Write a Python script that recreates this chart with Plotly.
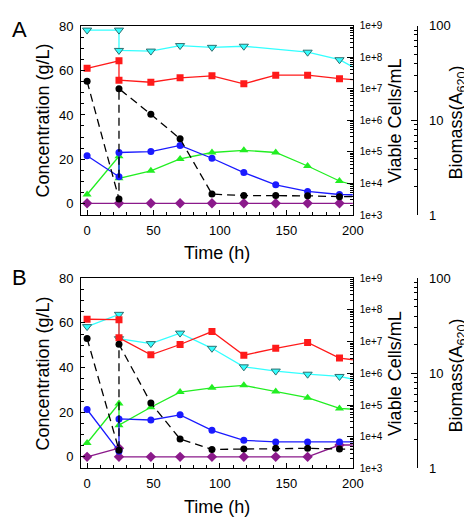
import plotly.graph_objects as go

# ---------------- data ----------------
time_full = [0, 24, 24, 48, 70, 94, 118, 142, 166, 190, 214]
time_no142 = [0, 24, 24, 48, 70, 94, 118, 166, 190, 214]
time_single = [0, 24, 48, 70, 94, 118, 142, 166, 190, 214]

A_cyan = [78.4, 78.4, 69.2, 68.9, 71.4, 70.6, 71.1, 68.4, 65.0, 57.3]
A_red = [61.1, 64.5, 55.7, 54.8, 56.8, 57.7, 54.1, 58.0, 58.0, 56.4, 55.4]
A_black = [55.2, 2.0, 51.9, 40.3, 29.2, 4.2, 3.5, 3.5, 3.4, 3.0, 3.2]
A_blue = [21.5, 12.0, 23.0, 23.4, 26.2, 20.4, 13.9, 8.4, 5.4, 4.0, 3.7]
A_green = [4.0, 21.3, 11.3, 14.7, 20.1, 23.0, 24.0, 23.0, 16.9, 10.1, 6.0]
A_purple = [0, 0, 0, 0, 0, 0, 0, 0, 0, 0]

B_cyan = [58.3, 63.8, 52.9, 50.7, 55.4, 48.6, 40.3, 38.4, 37.0, 36.0, 33.0]
B_red = [61.6, 61.4, 53.3, 45.7, 50.3, 56.1, 45.5, 48.6, 51.2, 44.2, 42.5]
B_black = [53.0, 3.0, 50.4, 24.1, 8.0, 3.3, 3.5, 3.8, 3.8, 3.5, 3.5]
B_blue = [21.2, 2.5, 17.0, 16.5, 18.8, 11.9, 7.4, 6.7, 6.7, 6.7, 6.7]
B_green = [6.2, 23.9, 14.2, 22.2, 29.0, 30.9, 32.0, 29.3, 26.5, 21.7, 20.8]
B_purple = [0, 3.9, 0, 0, 0, 0, 0, 0, 0, 5.3, 5.3]

conc_ticks = [0, 20, 40, 60, 80]
time_ticks = [0, 50, 100, 150, 200]
cell_ticks = [1e3, 1e4, 1e5, 1e6, 1e7, 1e8, 1e9]
cell_labels = ["1e+3", "1e+4", "1e+5", "1e+6", "1e+7", "1e+8", "1e+9"]
bio_ticks = [1, 10, 100]
bio_labels = ["1", "10", "100"]

# ---------------- figure ----------------
W, H = 472, 518
FONT = "Liberation Sans, Arial, sans-serif"

fig = go.Figure()

def px_x(p):
    return p / W

def px_y(p):
    return 1 - p / H

xdom = [px_x(75), px_x(353)]
A_top, A_bot = 11, 206
B_top, B_bot = 271, 467
domA = [px_y(A_bot), px_y(A_top)]
domB = [px_y(B_bot), px_y(B_top)]

def add_series(xa, ya, x, y, color, symbol, dash="solid", mline=None, size=7):
    fig.add_trace(go.Scatter(
        x=x, y=y, xaxis=xa, yaxis=ya, mode="lines+markers",
        line=dict(color=color, width=1.3, dash=dash),
        marker=dict(symbol=symbol, size=size, color=color,
                    line=dict(color=mline or color, width=1 if mline else 0)),
        showlegend=False, hoverinfo="skip", cliponaxis=True))

for xa, ya, cyan_t, cy, rd, bk, bl, gr, pu_t, pu in [
    ("x", "y", time_no142, A_cyan, A_red, A_black, A_blue, A_green, time_single, A_purple),
    ("x2", "y2", time_full, B_cyan, B_red, B_black, B_blue, B_green, time_full, B_purple),
]:
    add_series(xa, ya, pu_t, pu, "#8B1A8B", "diamond", size=8)
    add_series(xa, ya, cyan_t, cy, "#33FFFF", "triangle-down", mline="#2F6F6F", size=8)
    add_series(xa, ya, time_full, rd, "#FF1A1A", "square", size=7)
    add_series(xa, ya, time_full, gr, "#22EE22", "triangle-up", size=8)
    add_series(xa, ya, time_full, bl, "#1A1AFF", "circle", size=7)
    add_series(xa, ya, time_full, bk, "#000000", "circle", dash="8px,5px", size=7)

# invisible placeholders so the secondary axes are drawn
for ya in ["y3", "y4", "y5", "y6"]:
    xa = "x" if ya in ("y3", "y4") else "x2"
    fig.add_trace(go.Scatter(x=[None], y=[None], xaxis=xa, yaxis=ya,
                             showlegend=False, hoverinfo="skip"))

tickfont = dict(family=FONT, size=13, color="black")
titlefont = dict(family=FONT, size=18, color="black")

def xaxis_cfg(anchor):
    return dict(domain=xdom, anchor=anchor, range=[-4.4, 200],
                tickvals=time_ticks, ticks="inside", ticklen=5, tickwidth=1,
                minor=dict(dtick=10, tick0=0, ticks="inside", ticklen=3, tickwidth=1, tickcolor="black"),
                tickcolor="black", showline=True, linecolor="black", linewidth=1.2,
                mirror=True, showgrid=False, zeroline=False, tickfont=tickfont,
                ticklabelstandoff=3)

def yaxis_cfg(anchor, dom, rng):
    return dict(domain=dom, anchor=anchor, range=rng,
                tickvals=conc_ticks, ticks="inside", ticklen=4, tickwidth=1,
                minor=dict(dtick=5, tick0=0, ticks="inside", ticklen=3, tickwidth=1, tickcolor="black"),
                tickcolor="black", showline=True, linecolor="black", linewidth=1.2,
                mirror=True, showgrid=False, zeroline=False, tickfont=tickfont,
                ticklabelstandoff=4)

cell_minor = [m * 10 ** e for e in range(3, 9) for m in range(2, 10)]
bio_minor = [m * 10 ** e for e in range(0, 2) for m in range(2, 10)]

def cells_cfg(over, anchor):
    return dict(overlaying=over, anchor=anchor, side="right", type="log",
                range=[3, 9], tickvals=cell_ticks, ticktext=cell_labels,
                ticks="inside", ticklen=6, tickwidth=1, tickcolor="black",
                minor=dict(tickvals=cell_minor, ticks="inside", ticklen=3, tickwidth=1, tickcolor="black"),
                showline=False, showgrid=False, zeroline=False,
                tickfont=dict(family=FONT, size=10, color="black"),
                ticklabelstandoff=6)

def bio_cfg(over):
    return dict(overlaying=over, anchor="free", position=px_x(419), side="right", type="log",
                range=[0, 2], tickvals=bio_ticks, ticktext=bio_labels,
                ticks="inside", ticklen=6, tickwidth=1, tickcolor="black",
                minor=dict(tickvals=bio_minor, ticks="inside", ticklen=3, tickwidth=1, tickcolor="black"),
                showline=True, linecolor="black", linewidth=1.2,
                showgrid=False, zeroline=False,
                tickfont=dict(family=FONT, size=13, color="black"),
                ticklabelstandoff=8)

def title_ann(text, xp, yp, angle=0):
    return dict(text=text, x=px_x(xp), y=px_y(yp), xref="paper", yref="paper",
                xanchor="center", yanchor="middle", showarrow=False, textangle=angle,
                font=titlefont)

annotations = [
    dict(text="A", x=px_x(2), y=px_y(0), xref="paper", yref="paper",
         xanchor="left", yanchor="top", showarrow=False,
         font=dict(family=FONT, size=22, color="black")),
    dict(text="B", x=px_x(2), y=px_y(255), xref="paper", yref="paper",
         xanchor="left", yanchor="top", showarrow=False,
         font=dict(family=FONT, size=22, color="black")),
]
for top, bot, time_y in [(A_top, A_bot, 245), (B_top, B_bot, 507)]:
    mid = (top + bot) / 2
    annotations += [
        title_ann("Concentration (g/L)", 36, mid, -90),
        title_ann("Time (h)", 214, time_y),
        title_ann("Viable Cells/mL", 397, mid, -90),
        title_ann("Biomass(A<sub>620</sub>)", 460, mid + 2, -90),
    ]

fig.update_layout(
    width=W, height=H,
    margin=dict(l=0, r=0, t=0, b=0),
    paper_bgcolor="white", plot_bgcolor="white",
    font=dict(family=FONT, color="black"),
    xaxis=xaxis_cfg("y"),
    yaxis=yaxis_cfg("x", domA, [-5.3, 80.4]),
    xaxis2=xaxis_cfg("y2"),
    yaxis2=yaxis_cfg("x2", domB, [-5.2, 80.0]),
    yaxis3=cells_cfg("y", "x"),
    yaxis4=bio_cfg("y"),
    yaxis5=cells_cfg("y2", "x2"),
    yaxis6=bio_cfg("y2"),
    annotations=annotations,
)

fig.write_html("out.html")
